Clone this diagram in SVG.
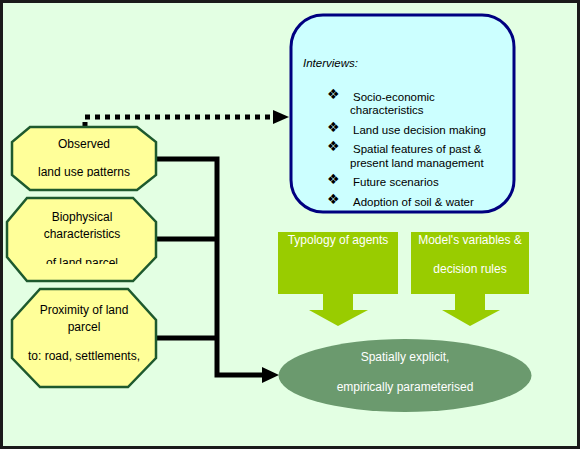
<svg xmlns="http://www.w3.org/2000/svg" width="582" height="451" viewBox="0 0 582 451">
<style>
text{font-family:"Liberation Sans",Arial,sans-serif;font-size:12px}
.oct{fill:#FFFF99;stroke:#1E5A2E;stroke-width:2.5}
.dk{fill:#000}
.wt{fill:#fff}
.c{text-anchor:middle}
.iv{font-size:11.5px}
.bul{font-family:"DejaVu Sans",sans-serif;font-size:14px}
.con{fill:none;stroke:#000;stroke-width:5}
.grn{fill:#99CC00}
</style>
<defs>
<clipPath id="c1"><rect x="0" y="0" width="582" height="177"/></clipPath>
<clipPath id="c2"><rect x="0" y="0" width="582" height="264"/></clipPath>
<clipPath id="c3"><rect x="0" y="0" width="582" height="207"/></clipPath>
</defs>
<rect x="1.5" y="1.5" width="577" height="446" fill="#E3FFE3" stroke="#1a1a1a" stroke-width="3"/>

<g id="connectors">
<path class="con" d="M85,127 V117 H272" style="stroke-dasharray:5 5"/>
<path d="M273,110 L289,117 L273,124 Z" fill="#000"/>
<path class="con" d="M156,159 H217 V375 H264"/>
<path class="con" d="M156,239 H217 M156,338 H217"/>
<path d="M262,367 L279,375 L262,383 Z" fill="#000"/>
</g>

<g id="observed">
<polygon class="oct" points="30,127 137,127 156,142 156,175 137,190 30,190 12,175 12,142"/>
<g clip-path="url(#c1)">
<text class="dk c" x="84" y="148">Observed</text>
<text class="dk c" x="84" y="176">land use patterns</text>
</g>
</g>

<g id="biophysical">
<polygon class="oct" points="27,198 133,198 156,222 156,257 133,281 27,281 7,257 7,222"/>
<g clip-path="url(#c2)">
<text class="dk c" x="82" y="221">Biophysical</text>
<text class="dk c" x="82" y="238">characteristics</text>
<text class="dk c" x="82" y="267">of land parcel</text>
</g>
</g>

<g id="proximity">
<polygon class="oct" points="40,289 128,289 156,320 156,358 128,387 40,387 12,358 12,320"/>
<text class="dk c" x="84" y="314">Proximity of land</text>
<text class="dk c" x="84" y="331">parcel</text>
<text class="dk c" x="84" y="360">to: road, settlements,</text>
</g>

<g id="interviews">
<rect x="291" y="15" width="223" height="197" rx="32" ry="32" fill="#CCFFFF" stroke="#000080" stroke-width="3"/>
<g clip-path="url(#c3)">
<text class="dk iv" x="303" y="67" font-style="italic">Interviews:</text>
<text class="bul" x="327" y="99">❖</text>
<text class="dk iv" x="353" y="101">Socio-economic</text>
<text class="dk iv" x="350" y="114">characteristics</text>
<text class="bul" x="327" y="132">❖</text>
<text class="dk iv" x="353" y="134">Land use decision making</text>
<text class="bul" x="327" y="151">❖</text>
<text class="dk iv" x="353" y="153">Spatial features of past &amp;</text>
<text class="dk iv" x="350" y="167">present land management</text>
<text class="bul" x="327" y="184">❖</text>
<text class="dk iv" x="353" y="186">Future scenarios</text>
<text class="bul" x="327" y="204">❖</text>
<text class="dk iv" x="353" y="206">Adoption of soil &amp; water</text>
</g>
</g>

<g id="typology">
<path class="grn" d="M278,232 H398 V294 H353 V310 H368 L338,326 L309,310 H323 V294 H278 Z"/>
<text class="wt c" x="338" y="244">Typology of agents</text>
</g>

<g id="variables">
<path class="grn" d="M411,232 H529 V294 H485 V310 H500 L470,326 L442,310 H455 V294 H411 Z"/>
<text class="wt c" x="470" y="244">Model's variables &amp;</text>
<text class="wt c" x="470" y="273">decision rules</text>
</g>

<g id="spatial">
<ellipse cx="405" cy="375.5" rx="126.5" ry="36.5" fill="#6B9A6E"/>
<text class="wt c" x="405" y="361">Spatially explicit,</text>
<text class="wt c" x="405" y="391">empirically parameterised</text>
</g>
</svg>
